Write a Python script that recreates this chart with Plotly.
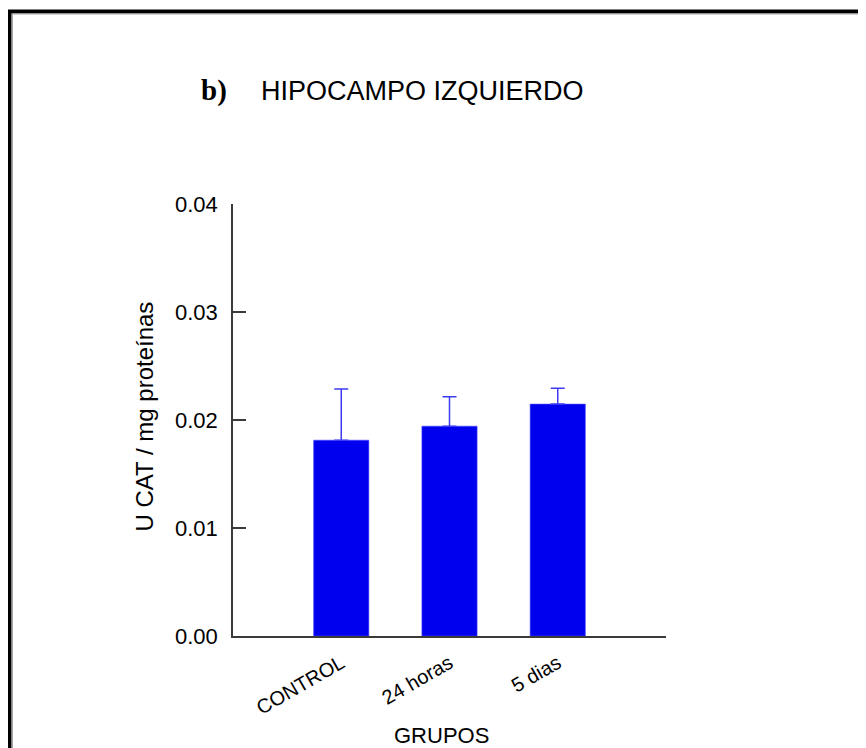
import plotly.graph_objects as go

categories = ["CONTROL", "24 horas", "5 dias"]
means = [0.01813, 0.01943, 0.02147]
errors = [0.00473, 0.00272, 0.00148]
yticks = [0.00, 0.01, 0.02, 0.03, 0.04]
ytick_labels = ["0.00", "0.01", "0.02", "0.03", "0.04"]

# page body adds an 8px margin; figure is sized/placed to compensate
OFF = 8
W, H = 866 - OFF, 748 - OFF
L, T = 233 - OFF, 204 - OFF
pw, ph = 433, 432
R, B = W - L - pw, H - T - ph

def px_x(x):
    return (x - OFF - L) / pw

def px_y(y):
    return (T + ph - (y - OFF)) / ph

xpos = list(range(len(categories)))

fig = go.Figure()
fig.add_trace(go.Bar(
    x=xpos, y=means, width=0.51,
    marker=dict(color="#0000EE", line=dict(color="#4a4aff", width=0.6)),
    error_y=dict(type="data", array=errors, symmetric=False, arrayminus=[0]*3,
                 color="#3c3cf0", thickness=1.5, width=7, visible=True),
    showlegend=False, hoverinfo="skip",
))
fig.add_trace(go.Scatter(x=[-1, 3], y=[0, 0], xaxis="x2", mode="markers",
                         marker=dict(opacity=0), showlegend=False, hoverinfo="skip"))

font_main = "Liberation Sans, Arial, sans-serif"
axis_col = "#3a3a3a"

fig.update_layout(
    width=W, height=H,
    margin=dict(l=L, r=R, t=T, b=B),
    paper_bgcolor="white", plot_bgcolor="white",
    xaxis=dict(range=[-1, 3], tickvals=xpos, ticktext=categories, tickangle=-30,
               ticks="", showline=True, linecolor=axis_col, linewidth=1.5,
               showgrid=False, zeroline=False, fixedrange=True, ticklabelstandoff=6,
               tickfont=dict(family=font_main, size=20, color="black")),
    xaxis2=dict(range=[-1, 3], overlaying="x", anchor="y", side="bottom",
                tickvals=[-1, 3], ticks="inside", ticklen=13, tickwidth=1.5,
                tickcolor=axis_col, showticklabels=False, showline=False,
                showgrid=False, zeroline=False),
    yaxis=dict(range=[0, 0.04], tickvals=yticks, ticktext=ytick_labels,
               ticks="inside", ticklen=13, tickwidth=1.5, tickcolor=axis_col,
               showline=True, linecolor=axis_col, linewidth=1.5,
               showgrid=False, zeroline=False, ticklabelstandoff=9,
               tickfont=dict(family=font_main, size=22, color="black")),
    annotations=[
        dict(text="<b>b)</b>", xref="paper", yref="paper", x=px_x(214.4), y=px_y(90),
             showarrow=False, xanchor="center", yanchor="middle",
             font=dict(family="Liberation Serif, Times New Roman, serif", size=29, color="black")),
        dict(text="HIPOCAMPO IZQUIERDO", xref="paper", yref="paper", x=px_x(422.3), y=px_y(90.5),
             showarrow=False, xanchor="center", yanchor="middle",
             font=dict(family=font_main, size=27, color="black")),
        dict(text="U CAT / mg proteínas", xref="paper", yref="paper", x=px_x(144), y=px_y(416.5),
             showarrow=False, xanchor="center", yanchor="middle", textangle=-90,
             font=dict(family=font_main, size=24, color="black")),
        dict(text="GRUPOS", xref="paper", yref="paper", x=px_x(441.7), y=px_y(735.5),
             showarrow=False, xanchor="center", yanchor="middle",
             font=dict(family=font_main, size=22, color="black")),
    ],
    shapes=[
        dict(type="rect", xref="paper", yref="paper",
             x0=px_x(9.5), x1=px_x(W + 80), y0=px_y(H + 80), y1=px_y(11.5),
             line=dict(color="black", width=4), fillcolor="rgba(0,0,0,0)", layer="above"),
        dict(type="rect", xref="paper", yref="paper",
             x0=px_x(12.5), x1=px_x(W + 80), y0=px_y(H + 80), y1=px_y(14),
             line=dict(color="#a8a8a8", width=1), fillcolor="rgba(0,0,0,0)", layer="above"),
    ],
)

fig.write_html("out.html")
